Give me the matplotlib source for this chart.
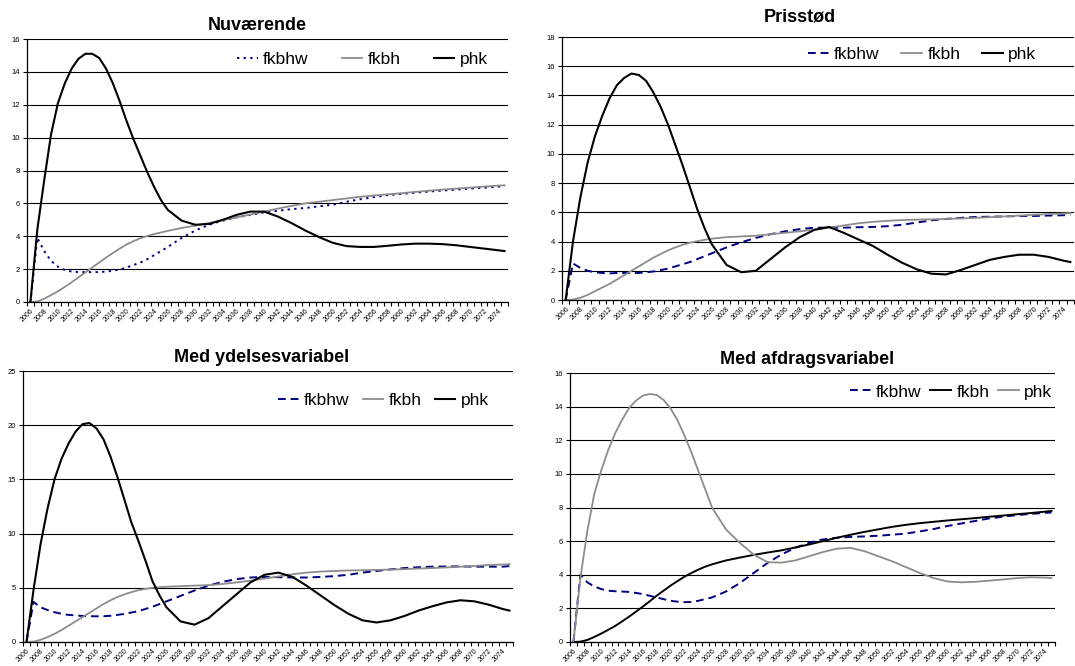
import matplotlib
matplotlib.use("Agg")
import matplotlib.pyplot as plt

plt.rcParams["font.family"] = ["Liberation Sans", "DejaVu Sans"]

# shared x positions (yearly to 2026, then every second year)
years = list(range(2006, 2027)) + list(range(2028, 2075, 2)) + [2075]

# =====================================
# Nuværende
# =====================================
nu_fkbhw = [0, 3.9, 3.1, 2.5, 2.15, 1.95, 1.85, 1.82, 1.82, 1.82, 1.82, 1.85, 1.9, 1.98,
            2.1, 2.25, 2.4, 2.6, 2.85, 3.1, 3.35,
            3.9, 4.35, 4.7, 4.95, 5.15, 5.3, 5.45, 5.55, 5.65, 5.72, 5.82, 5.92, 6.1, 6.25,
            6.38, 6.5, 6.58, 6.65, 6.72, 6.78, 6.84, 6.9, 6.95, 7.02, 7.05]
nu_fkbh = [0, 0.03, 0.2, 0.42, 0.65, 0.92, 1.2, 1.5, 1.8, 2.1, 2.4, 2.7, 2.98, 3.25,
           3.5, 3.7, 3.88, 4.02, 4.13, 4.23, 4.33,
           4.5, 4.65, 4.8, 4.98, 5.15, 5.32, 5.5, 5.68, 5.85, 6.0, 6.1, 6.2, 6.3, 6.4,
           6.48, 6.55, 6.62, 6.7, 6.77, 6.84, 6.9, 6.96, 7.02, 7.08, 7.1]
nu_phk = [0, 4.4, 7.4, 10.2, 12.1, 13.3, 14.2, 14.8, 15.1, 15.1, 14.85, 14.2, 13.3, 12.2,
          11.0, 9.9, 8.9, 7.9, 7.0, 6.2, 5.6,
          4.95, 4.7, 4.75, 5.0, 5.3, 5.5, 5.5, 5.2, 4.8, 4.35, 3.95, 3.6, 3.4, 3.35,
          3.35, 3.42, 3.5, 3.55, 3.55, 3.52, 3.45, 3.35, 3.25, 3.15, 3.1]

# =====================================
# Prisstød
# =====================================
pr_fkbhw = [0, 2.5, 2.2, 2.0, 1.9, 1.85, 1.82, 1.85, 1.85, 1.85, 1.85, 1.9, 1.95, 2.05,
            2.15, 2.3, 2.45, 2.6, 2.8, 3.0, 3.2,
            3.6, 3.95, 4.25, 4.5, 4.7, 4.85, 4.95, 4.95, 4.95, 4.98, 5.0, 5.05, 5.15, 5.3,
            5.45, 5.55, 5.62, 5.68, 5.7, 5.72, 5.75, 5.75, 5.78, 5.8, 5.82]
pr_fkbh = [0, 0.03, 0.15, 0.35, 0.6, 0.85, 1.1, 1.4, 1.7, 2.0, 2.3, 2.6, 2.9, 3.15,
           3.4, 3.6, 3.78, 3.92, 4.03, 4.12, 4.2,
           4.3, 4.35, 4.4, 4.5, 4.6, 4.7, 4.82, 4.95, 5.1, 5.25, 5.35, 5.42, 5.47, 5.5,
           5.52, 5.55, 5.58, 5.62, 5.67, 5.72, 5.78, 5.83, 5.88, 5.92, 5.95]
pr_phk = [0, 4.0, 7.0, 9.4, 11.2, 12.6, 13.8, 14.7, 15.2, 15.5, 15.4, 15.0, 14.2, 13.2,
          12.0, 10.6, 9.2, 7.7, 6.2, 4.9, 3.8,
          2.4, 1.9, 2.0, 2.8, 3.6, 4.3, 4.8, 5.0, 4.6, 4.15, 3.7, 3.1, 2.55, 2.1,
          1.8, 1.75, 2.05, 2.4, 2.75, 2.95, 3.1, 3.1, 2.95, 2.7, 2.6]

# =====================================
# Med ydelsesvariabel
# =====================================
yd_fkbhw = [0, 3.7, 3.2, 2.95, 2.75, 2.6, 2.5, 2.45, 2.4, 2.38, 2.37, 2.38, 2.42, 2.5,
            2.6, 2.72, 2.85, 3.05, 3.25, 3.5, 3.75,
            4.25, 4.75, 5.2, 5.55, 5.8, 5.95, 6.0, 5.98, 5.95, 5.95, 6.0, 6.08, 6.2, 6.4,
            6.55, 6.7, 6.82, 6.9, 6.95, 6.97, 6.97, 6.95, 6.95, 6.95, 7.0]
yd_fkbh = [0, 0.03, 0.2, 0.45, 0.75, 1.1, 1.5, 1.9, 2.3, 2.7, 3.1, 3.5, 3.85, 4.15,
           4.4, 4.6, 4.78, 4.9, 5.0, 5.05, 5.1,
           5.15, 5.2, 5.25, 5.35, 5.5, 5.65, 5.85, 6.05, 6.25, 6.4, 6.5, 6.55, 6.6, 6.62,
           6.65, 6.68, 6.72, 6.78, 6.82, 6.88, 6.95, 7.02, 7.1, 7.15, 7.18]
yd_phk = [0, 4.8, 9.0, 12.3, 15.0, 16.9, 18.3, 19.4, 20.1, 20.2, 19.7, 18.7, 17.1, 15.2,
          13.1, 11.0, 9.3, 7.5, 5.6, 4.3, 3.2,
          1.9, 1.6, 2.2, 3.3, 4.4, 5.5, 6.2, 6.4, 6.0, 5.2, 4.3, 3.4, 2.6, 2.0,
          1.8, 2.0, 2.4, 2.9, 3.3, 3.65, 3.85, 3.75, 3.45, 3.05, 2.9]

# =====================================
# Med afdragsvariabel
# =====================================
af_fkbhw = [0, 4.0, 3.55, 3.3, 3.15, 3.05, 3.02, 3.0, 2.98, 2.92, 2.85, 2.75, 2.65, 2.55,
            2.45, 2.4, 2.37, 2.38, 2.45, 2.55, 2.65,
            3.0, 3.5, 4.1, 4.7, 5.2, 5.6, 5.9, 6.1, 6.2, 6.25, 6.28, 6.32, 6.38, 6.45,
            6.58, 6.72, 6.9, 7.05, 7.2, 7.35, 7.45, 7.55, 7.62, 7.68, 7.7]
af_fkbh = [0, 0.02, 0.12, 0.3, 0.5, 0.72, 0.95, 1.22, 1.5, 1.8, 2.1, 2.42, 2.75, 3.05,
           3.35, 3.62, 3.88, 4.1, 4.3, 4.48, 4.62,
           4.85, 5.02, 5.18, 5.32, 5.45, 5.62, 5.8, 6.0, 6.2, 6.38, 6.55, 6.7, 6.85, 6.97,
           7.07, 7.15, 7.23, 7.3, 7.37, 7.45, 7.52, 7.6, 7.67, 7.75, 7.8]
af_phk = [0, 3.8, 6.6, 8.8, 10.2, 11.4, 12.4, 13.2, 13.9, 14.35, 14.65, 14.75, 14.7, 14.4,
          13.9, 13.2, 12.3, 11.3, 10.2, 9.1, 8.0,
          6.7, 5.9, 5.2, 4.75, 4.72, 4.85, 5.1, 5.35, 5.55, 5.6, 5.4, 5.1, 4.8, 4.45,
          4.1, 3.8, 3.6, 3.55, 3.58, 3.65, 3.72, 3.8, 3.85, 3.83, 3.8]

NAVY = "#000080"
GRAY = "#8c8c8c"
W, H = 1075, 666

fig = plt.figure(figsize=(W / 100, H / 100), dpi=100)


def px_rect(left, right, top, bottom):
    return [left / W, 1 - bottom / H, (right - left) / W, (bottom - top) / H]


def setup_axes(ax, ymax, ystep):
    ax.set_xlim(2005.5, 2075.5)
    ax.set_ylim(0, ymax)
    ax.set_yticks(range(0, ymax + 1, ystep))
    ax.set_xticks(range(2006, 2075, 2))
    ax.set_xticklabels([str(y) for y in range(2006, 2075, 2)], rotation=45,
                       ha="right", rotation_mode="anchor", fontsize=5)
    ax.set_xticks([2005.5 + k for k in range(71)], minor=True)
    ax.tick_params(axis="x", which="major", length=0, pad=4)
    ax.tick_params(axis="x", which="minor", length=3, width=0.8, direction="out")
    ax.tick_params(axis="y", length=3, width=0.8, labelsize=5.5, pad=2)
    ax.grid(axis="y", color="black", linewidth=0.8)
    ax.set_axisbelow(True)
    for side in ["top", "right"]:
        ax.spines[side].set_visible(False)
    for side in ["left", "bottom"]:
        ax.spines[side].set_linewidth(0.9)


def add_legend(ax, x, y, colsp):
    ax.legend(loc="center left", bbox_to_anchor=(x / W, 1 - y / H),
              bbox_transform=fig.transFigure, ncol=3, frameon=False,
              fontsize=12.5, handlelength=1.2, handletextpad=0.3,
              columnspacing=colsp, borderpad=0, borderaxespad=0)


# panel 1
ax1 = fig.add_axes(px_rect(27, 508, 39, 302))
setup_axes(ax1, 16, 2)
ax1.plot(years, nu_fkbhw, color=NAVY, linestyle=(0, (1.2, 2.2)), linewidth=1.4, label="fkbhw")
ax1.plot(years, nu_fkbh, color=GRAY, linewidth=1.3, label="fkbh")
ax1.plot(years, nu_phk, color="black", linewidth=1.5, label="phk")
add_legend(ax1, 237, 59, 1.9)
fig.text(257 / W, 1 - 25 / H, "Nuværende", ha="center", va="center",
         fontsize=13, fontweight="bold")

# panel 2
ax2 = fig.add_axes(px_rect(562, 1074, 37, 300))
setup_axes(ax2, 18, 2)
ax2.plot(years, pr_fkbhw, color=NAVY, linestyle=(0, (4, 2.5)), linewidth=1.4, label="fkbhw")
ax2.plot(years, pr_fkbh, color=GRAY, linewidth=1.3, label="fkbh")
ax2.plot(years, pr_phk, color="black", linewidth=1.5, label="phk")
add_legend(ax2, 808, 54, 1.25)
fig.text(800 / W, 1 - 17 / H, "Prisstød", ha="center", va="center",
         fontsize=13, fontweight="bold")

# panel 3
ax3 = fig.add_axes(px_rect(23, 513, 371, 642))
setup_axes(ax3, 25, 5)
ax3.plot(years, yd_fkbhw, color=NAVY, linestyle=(0, (4, 2.5)), linewidth=1.4, label="fkbhw")
ax3.plot(years, yd_fkbh, color=GRAY, linewidth=1.3, label="fkbh")
ax3.plot(years, yd_phk, color="black", linewidth=1.5, label="phk")
add_legend(ax3, 278, 400, 0.75)
fig.text(262 / W, 1 - 358 / H, "Med ydelsesvariabel", ha="center", va="center",
         fontsize=13, fontweight="bold")

# panel 4
ax4 = fig.add_axes(px_rect(570, 1055, 373, 642))
setup_axes(ax4, 16, 2)
ax4.plot(years, af_fkbhw, color=NAVY, linestyle=(0, (4, 2.5)), linewidth=1.4, label="fkbhw")
ax4.plot(years, af_fkbh, color="black", linewidth=1.4, label="fkbh")
ax4.plot(years, af_phk, color=GRAY, linewidth=1.3, label="phk")
add_legend(ax4, 850, 392, 0.5)
fig.text(807 / W, 1 - 360 / H, "Med afdragsvariabel", ha="center", va="center",
         fontsize=13, fontweight="bold")

fig.savefig("out.png", dpi=100)
plt.close(fig)
